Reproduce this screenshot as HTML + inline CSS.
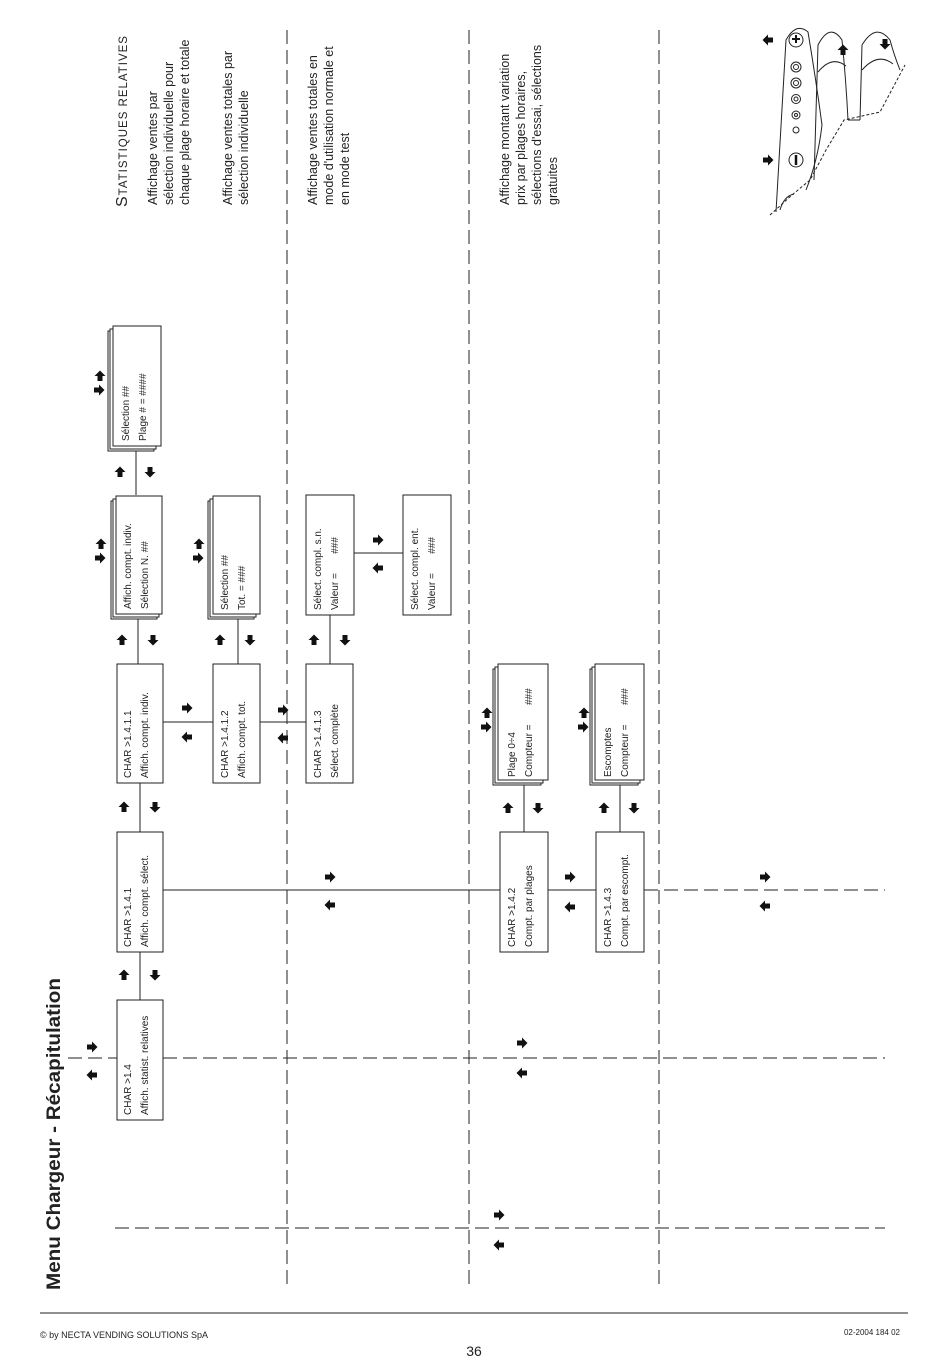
<!DOCTYPE html>
<html><head><meta charset="utf-8"><style>
html,body{margin:0;padding:0;background:#fff;}
svg{display:block;}
text{font-family:"Liberation Sans",sans-serif;fill:#222;}
.b{font-size:10px;}
.d{font-size:12.5px;}
</style></head><body>
<svg width="950" height="1370" viewBox="0 0 950 1370" xmlns="http://www.w3.org/2000/svg">
<defs>
<path id="ar" d="M-5,-2.5 H0 V-5.5 L5.5,0 L0,5.5 V2.5 H-5 Z" fill="#111"/>
<path id="al" d="M5,-2.5 H0 V-5.5 L-5.5,0 L0,5.5 V2.5 H5 Z" fill="#111"/>
<path id="au" d="M-2.5,5 V0 H-5.5 L0,-5.5 L5.5,0 H2.5 V5 Z" fill="#111"/>
<path id="ad" d="M-2.5,-5 V0 H-5.5 L0,5.5 L5.5,0 H2.5 V-5 Z" fill="#111"/>
</defs>
<g fill="none" stroke="#222" stroke-width="1">
<line x1="287" y1="30" x2="287" y2="1290" stroke-dasharray="14,6"/>
<line x1="469" y1="30" x2="469" y2="1290" stroke-dasharray="14,6"/>
<line x1="659" y1="30" x2="659" y2="1290" stroke-dasharray="14,6"/>
<line x1="68" y1="1058" x2="117" y2="1058" stroke-dasharray="14,6"/>
<line x1="163" y1="1058" x2="885" y2="1058" stroke-dasharray="14,6"/>
<line x1="115" y1="1228" x2="885" y2="1228" stroke-dasharray="14,6"/>
<line x1="644" y1="890" x2="885" y2="890" stroke-dasharray="14,6"/>
<line x1="163" y1="890" x2="500" y2="890"/>
<line x1="548" y1="890" x2="596" y2="890"/>
<line x1="163" y1="722" x2="213" y2="722"/>
<line x1="260" y1="722" x2="306" y2="722"/>
<line x1="354" y1="553" x2="403" y2="553"/>
<line x1="140" y1="952" x2="140" y2="1000"/>
<line x1="140" y1="783" x2="140" y2="832"/>
<line x1="138" y1="616" x2="138" y2="664"/>
<line x1="136" y1="448" x2="136" y2="495"/>
<line x1="238" y1="617" x2="238" y2="664"/>
<line x1="330" y1="615" x2="330" y2="664"/>
<line x1="524" y1="782" x2="524" y2="832"/>
<line x1="620" y1="782" x2="620" y2="832"/>
<line x1="40" y1="1313" x2="908" y2="1313"/>
</g>
<g fill="#fff" stroke="#222" stroke-width="1">
<rect x="117" y="1000" width="46" height="120"/>
<rect x="117" y="832" width="46" height="120"/>
<rect x="117" y="664" width="46" height="119"/>
<rect x="213" y="664" width="47" height="119"/>
<rect x="306" y="664" width="47" height="119"/>
<rect x="306" y="495" width="48" height="120"/>
<rect x="403" y="495" width="48" height="120"/>
<rect x="500" y="832" width="48" height="120"/>
<rect x="596" y="832" width="48" height="120"/>
<rect x="111" y="501" width="46" height="118"/><rect x="113" y="499" width="46" height="118"/><rect x="116" y="496" width="46" height="118"/>
<rect x="108" y="331" width="46" height="120"/><rect x="110" y="329" width="46" height="120"/><rect x="113" y="326" width="48" height="120"/>
<rect x="208" y="501" width="46" height="118"/><rect x="210" y="499" width="46" height="118"/><rect x="213" y="496" width="47" height="118"/>
<rect x="493" y="669" width="48" height="116"/><rect x="495" y="667" width="48" height="116"/><rect x="498" y="664" width="50" height="116"/>
<rect x="590" y="669" width="48" height="116"/><rect x="592" y="667" width="48" height="116"/><rect x="595" y="664" width="49" height="116"/>
</g>
<g class="b">
<text transform="translate(131,1115) rotate(-90)">CHAR &gt;1.4</text>
<text transform="translate(148,1115) rotate(-90)">Affich. statist. relatives</text>
<text transform="translate(131,947) rotate(-90)">CHAR &gt;1.4.1</text>
<text transform="translate(148,947) rotate(-90)">Affich. compt. sélect.</text>
<text transform="translate(131,778) rotate(-90)">CHAR &gt;1.4.1.1</text>
<text transform="translate(148,778) rotate(-90)">Affich. compt. indiv.</text>
<text transform="translate(131,609) rotate(-90)">Affich. compt. indiv.</text>
<text transform="translate(148,609) rotate(-90)">Sélection N.  ##</text>
<text transform="translate(129,441) rotate(-90)">Sélection ##</text>
<text transform="translate(146,441) rotate(-90)">Plage # = ####</text>
<text transform="translate(228,778) rotate(-90)">CHAR &gt;1.4.1.2</text>
<text transform="translate(245,778) rotate(-90)">Affich. compt. tot.</text>
<text transform="translate(228,610) rotate(-90)">Sélection ##</text>
<text transform="translate(245,610) rotate(-90)">Tot.  = ###</text>
<text transform="translate(321,778) rotate(-90)">CHAR &gt;1.4.1.3</text>
<text transform="translate(338,778) rotate(-90)">Sélect. complète</text>
<text transform="translate(321,610) rotate(-90)">Sélect. compl. s.n.</text>
<text transform="translate(338,610) rotate(-90)" xml:space="preserve">Valeur =       ###</text>
<text transform="translate(418,610) rotate(-90)">Sélect. compl. ent.</text>
<text transform="translate(435,610) rotate(-90)" xml:space="preserve">Valeur =       ###</text>
<text transform="translate(515,947) rotate(-90)">CHAR &gt;1.4.2</text>
<text transform="translate(532,947) rotate(-90)">Compt. par plages</text>
<text transform="translate(611,947) rotate(-90)">CHAR &gt;1.4.3</text>
<text transform="translate(628,947) rotate(-90)">Compt. par escompt.</text>
<text transform="translate(515,777) rotate(-90)">Plage 0÷4</text>
<text transform="translate(532,777) rotate(-90)" xml:space="preserve">Compteur =       ###</text>
<text transform="translate(611,777) rotate(-90)">Escomptes</text>
<text transform="translate(628,777) rotate(-90)" xml:space="preserve">Compteur =       ###</text>
</g>
<text transform="translate(60,1290) rotate(-90)" font-size="19" font-weight="bold" textLength="312" lengthAdjust="spacingAndGlyphs">Menu Chargeur - Récapitulation</text>
<text transform="translate(127,207) rotate(-90)" font-size="11.5" letter-spacing="1"><tspan font-size="16">S</tspan>TATISTIQUES  RELATIVES</text>
<g class="d">
<text transform="translate(157,205) rotate(-90)">Affichage ventes par</text>
<text transform="translate(173,205) rotate(-90)">sélection individuelle pour</text>
<text transform="translate(189,205) rotate(-90)">chaque plage horaire et totale</text>
<text transform="translate(232,205) rotate(-90)">Affichage ventes totales par</text>
<text transform="translate(248,205) rotate(-90)">sélection individuelle</text>
<text transform="translate(317,205) rotate(-90)">Affichage ventes totales  en</text>
<text transform="translate(333,205) rotate(-90)">mode d'utilisation normale et</text>
<text transform="translate(349,205) rotate(-90)">en mode test</text>
<text transform="translate(509,205) rotate(-90)">Affichage montant variation</text>
<text transform="translate(525,205) rotate(-90)">prix par plages horaires,</text>
<text transform="translate(541,205) rotate(-90)">sélections d'essai, sélections</text>
<text transform="translate(557,205) rotate(-90)">gratuites</text>
</g>
<use href="#ar" x="92" y="1047"/><use href="#al" x="92" y="1075"/>
<use href="#au" x="124" y="975"/><use href="#ad" x="155" y="975"/>
<use href="#au" x="124" y="807"/><use href="#ad" x="155" y="807"/>
<use href="#au" x="122" y="640"/><use href="#ad" x="153" y="640"/>
<use href="#au" x="120" y="472"/><use href="#ad" x="150" y="472"/>
<use href="#ar" x="100" y="558"/><use href="#au" x="101" y="544"/>
<use href="#ar" x="99" y="390"/><use href="#au" x="100" y="376"/>
<use href="#ar" x="187" y="708"/><use href="#al" x="187" y="737"/>
<use href="#au" x="220" y="640"/><use href="#ad" x="250" y="640"/>
<use href="#ar" x="198" y="558"/><use href="#au" x="199" y="544"/>
<use href="#ar" x="283" y="710"/><use href="#al" x="283" y="738"/>
<use href="#au" x="314" y="640"/><use href="#ad" x="345" y="640"/>
<use href="#ar" x="378" y="540"/><use href="#al" x="378" y="568"/>
<use href="#ar" x="330" y="877"/><use href="#al" x="330" y="905"/>
<use href="#ar" x="570" y="877"/><use href="#al" x="570" y="907"/>
<use href="#ar" x="765" y="877"/><use href="#al" x="765" y="906"/>
<use href="#ar" x="522" y="1043"/><use href="#al" x="522" y="1073"/>
<use href="#ar" x="499" y="1215"/><use href="#al" x="499" y="1245"/>
<use href="#au" x="508" y="808"/><use href="#ad" x="538" y="808"/>
<use href="#ar" x="486" y="727"/><use href="#au" x="487" y="713"/>
<use href="#au" x="604" y="808"/><use href="#ad" x="634" y="808"/>
<use href="#ar" x="583" y="727"/><use href="#au" x="584" y="713"/>
<g fill="none" stroke="#222" stroke-width="1">
<path d="M776,212 L786,40 Q796,22 808,32 Q816,80 822,125 Q818,160 806,190"/>
<path d="M780,210 Q784,196 794,194"/>
<path d="M814,180 L818,45 Q830,22 842,40 Q846,80 848,120"/>
<path d="M818,72 Q832,55 846,66"/>
<path d="M860,120 L862,45 Q876,22 890,40 Q894,55 900,70"/>
<path d="M862,70 Q878,52 893,64"/>
<path d="M848,120 L860,120"/>
<path d="M770,215 L792,195 L810,180 L826,150 L844,120 L880,112 L905,65" stroke-dasharray="3,2"/>
<circle cx="796" cy="40" r="7"/>
<circle cx="796" cy="160" r="7"/>
<circle cx="796" cy="67" r="5"/><circle cx="796" cy="67" r="2.5"/>
<circle cx="796" cy="83" r="5"/><circle cx="796" cy="83" r="2.5"/>
<circle cx="796" cy="99" r="4.5"/><circle cx="796" cy="99" r="2"/>
<circle cx="796" cy="115" r="4"/><circle cx="796" cy="115" r="1.5"/>
<circle cx="796" cy="130" r="3"/>
</g>
<path d="M792,39 h8 M796,35 v8" stroke="#111" stroke-width="2"/>
<path d="M796,155 v10" stroke="#111" stroke-width="2.5"/>
<use href="#al" x="768" y="40"/><use href="#ar" x="768" y="160"/>
<use href="#au" x="843" y="50"/><use href="#ad" x="885" y="44"/>
<text x="40" y="1338" font-size="9">© by NECTA VENDING SOLUTIONS SpA</text>
<text x="900" y="1335" font-size="8" text-anchor="end">02-2004 184 02</text>
<text x="474" y="1356" font-size="14" text-anchor="middle">36</text>
</svg>
</body></html>
